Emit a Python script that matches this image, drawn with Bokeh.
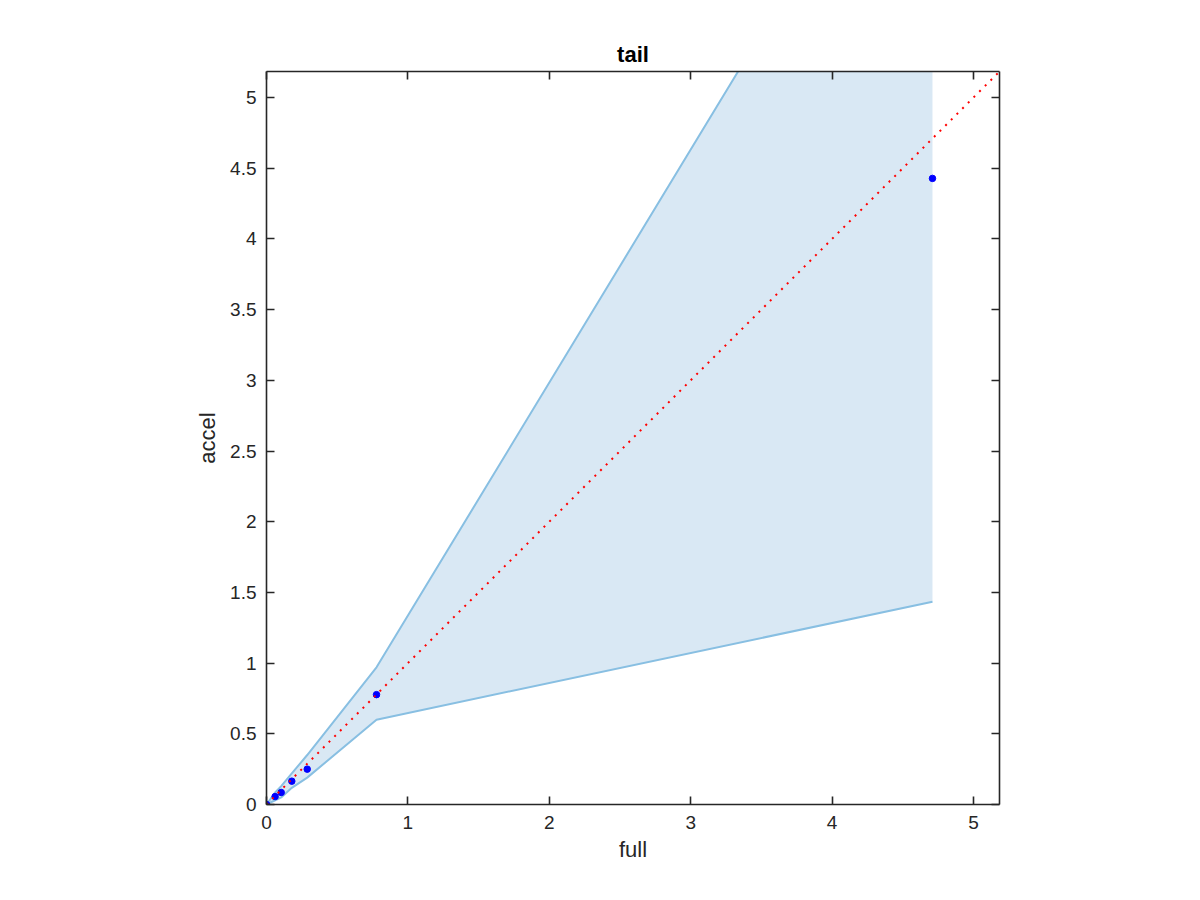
from bokeh.plotting import figure
from bokeh.models import LinearAxis, FixedTicker, Range1d
from bokeh.embed import file_html
from bokeh.resources import INLINE

# ---- data ----
full_vals = [0.0, 0.061, 0.104, 0.179, 0.288, 0.778, 4.71]
accel_vals = [0.0, 0.056, 0.085, 0.165, 0.250, 0.777, 4.428]
band_lower = [0.0, 0.030, 0.050, 0.118, 0.190, 0.600, 1.434]
band_upper = [0.0, 0.085, 0.130, 0.220, 0.350, 0.970, 7.45]
ref_x = [0.0, 5.3]
ref_y = [0.0, 5.3]
x_ticks = [0, 1, 2, 3, 4, 5]
x_tick_labels = ["0", "1", "2", "3", "4", "5"]
y_ticks = [0, 0.5, 1, 1.5, 2, 2.5, 3, 3.5, 4, 4.5, 5]
y_tick_labels = ["0", "0.5", "1", "1.5", "2", "2.5", "3", "3.5", "4", "4.5", "5"]
axis_max = 5.184

FONT = "Liberation Sans"
AX_COL = "#262626"

p = figure(
    frame_width=733, frame_height=733,
    min_border_left=266, min_border_right=193,
    min_border_top=71, min_border_bottom=88,
    x_range=Range1d(0, axis_max), y_range=Range1d(0, axis_max),
    output_backend="svg", toolbar_location=None,
    x_axis_location=None, y_axis_location=None,
    title="tail",
)
p.background_fill_color = "white"
p.border_fill_color = "white"
p.outline_line_color = None
p.xgrid.visible = False
p.ygrid.visible = False

p.title.align = "center"
p.title.text_font = FONT
p.title.text_font_style = "bold"
p.title.text_font_size = "22px"
p.title.text_color = "black"
p.title.standoff = 9


def style_axis(ax, ticks, labels, show_labels):
    ax.ticker = FixedTicker(ticks=ticks)
    ax.major_label_overrides = {t: l for t, l in zip(ticks, labels)}
    ax.axis_line_color = AX_COL
    ax.axis_line_width = 1.6
    ax.major_tick_line_color = AX_COL
    ax.major_tick_line_width = 1.6
    ax.major_tick_in = 8
    ax.major_tick_out = 0
    ax.minor_tick_line_color = None
    ax.major_label_text_font = FONT
    ax.major_label_text_font_size = "19px"
    ax.major_label_text_color = AX_COL if show_labels else None
    ax.axis_label_text_font = FONT
    ax.axis_label_text_font_size = "22px"
    ax.axis_label_text_font_style = "normal"
    ax.axis_label_text_color = AX_COL


xb = LinearAxis(axis_label="full")
style_axis(xb, x_ticks, x_tick_labels, True)
xb.major_label_standoff = 11
xb.axis_label_standoff = 5
p.add_layout(xb, "below")

yl = LinearAxis(axis_label="accel")
style_axis(yl, y_ticks, y_tick_labels, True)
yl.major_label_standoff = 10
yl.axis_label_standoff = 7
p.add_layout(yl, "left")

xt = LinearAxis()
style_axis(xt, x_ticks, x_tick_labels, False)
xt.major_label_text_font_size = "0px"
p.add_layout(xt, "above")

yr = LinearAxis()
style_axis(yr, y_ticks, y_tick_labels, False)
yr.major_label_text_font_size = "0px"
p.add_layout(yr, "right")

# band
p.varea(x=full_vals, y1=band_lower, y2=band_upper, fill_color="#d9e8f4", fill_alpha=1.0)
p.line(full_vals, band_upper, line_color="#88bfe2", line_width=2)
p.line(full_vals, band_lower, line_color="#88bfe2", line_width=2)

# points
p.scatter(full_vals, accel_vals, marker="circle", size=6.5, fill_color="#0000ff",
          line_color="#0000ff")

# reference diagonal
p.line(ref_x, ref_y, line_color="#ff0000", line_width=2, line_dash="2 6")

open("out.html", "w").write(file_html(p, INLINE))
